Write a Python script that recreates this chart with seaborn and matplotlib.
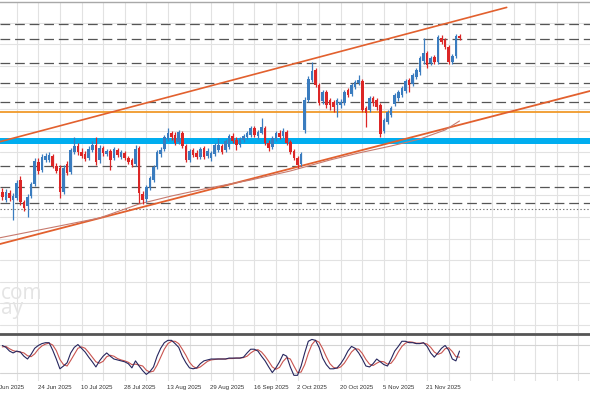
import numpy as np
import pandas as pd
import matplotlib
matplotlib.use("Agg")
import matplotlib.pyplot as plt
import matplotlib.transforms as mtransforms
import seaborn as sns

# ---------------- data (daily candles, price in index points) ----------------
opens = [208,200,207,200,202,220,198,194,204,216,
         238,230,240,240,244,234,232,208,236,228,
         248,254,248,246,242,250,255,240,252,246,
         249,242,250,243,247,242,240,236,252,206,
         201,212,220,233,246,251,261,267,265,258,
         267,254,240,250,247,243,252,244,242,246,
         250,254,250,253,264,260,255,260,263,265,
         272,264,267,272,257,253,261,267,264,268,
         258,249,242,236,270,300,320,330,315,299,
         308,300,298,295,295,297,310,306,313,317,
         319,292,290,302,300,295,269,278,285,296,
         302,305,309,320,316,323,328,339,347,337,
         343,338,362,360,353,338,344,364]
highs = [212,211,210,207,220,224,200,206,218,242,
         242,246,247,248,246,237,235,235,239,252,
         263,257,252,249,254,259,263,255,254,251,
         251,253,252,250,249,244,242,255,254,209,
         215,224,235,250,253,265,272,269,268,270,
         269,256,251,252,250,253,254,252,249,257,
         262,256,261,266,267,263,263,266,269,274,
         274,270,282,274,260,264,269,270,272,270,
         260,251,244,248,303,324,338,332,317,310,
         310,302,300,302,301,310,312,317,320,325,
         321,294,304,304,302,297,282,290,294,307,
         310,314,321,322,327,332,344,362,349,344,
         345,365,365,362,355,346,366,366]
lows = [200,198,199,180,200,195,189,183,202,214,
        226,228,238,238,232,227,202,206,225,226,
        246,245,242,239,240,248,235,237,244,244,
        230,240,243,241,240,236,233,234,197,196,
        198,210,218,231,243,249,259,260,255,256,
        252,238,238,243,241,241,241,242,239,244,
        248,246,248,251,257,250,253,258,261,263,
        263,261,266,255,249,251,259,261,262,255,
        246,240,232,234,267,298,318,313,295,296,
        292,290,288,283,292,295,303,304,311,315,
        288,273,288,294,290,263,267,276,283,294,
        299,303,307,308,314,321,325,336,332,335,
        336,336,356,351,336,336,342,360]
closes = [203,208,202,204,217,198,192,203,216,239,
          229,243,244,245,234,229,208,232,227,250,
          254,248,244,241,251,255,238,252,247,249,
          240,251,245,248,242,238,235,251,207,200,
          213,222,233,248,250,263,267,263,257,268,
          254,240,249,245,243,251,243,249,247,255,
          255,248,259,264,259,255,261,264,267,272,
          265,268,273,257,252,262,267,263,269,257,
          248,242,235,246,300,321,329,315,297,308,
          295,295,293,300,298,308,305,315,318,320,
          290,287,302,297,293,266,280,288,292,305,
          308,312,319,315,325,330,342,347,335,342,
          338,363,358,353,338,344,364,362.5]

# Stochastic oscillator (%K main, %D signal)
stoch_main = [79,75,67,63,67,65,56,50,60,73,
              79,83,85,85,69,50,29,35,42,63,
              75,81,73,65,54,44,33,46,56,63,
              56,50,48,46,44,40,31,46,35,25,
              17,23,33,56,73,85,90,90,83,75,
              56,42,31,29,31,40,46,48,50,50,
              50,50,50,52,52,52,52,54,63,71,
              71,67,56,46,33,21,31,44,60,56,
              33,15,15,35,63,88,92,90,75,52,
              38,29,29,31,40,52,67,77,73,63,
              50,35,33,40,50,44,38,35,50,67,
              77,88,88,85,85,83,83,85,77,63,
              54,63,73,79,69,50,46,67]
stoch_signal = [76,77,72,68,66,65,63,57,55,61,
                71,78,82,84,80,68,49,38,35,47,
                60,73,76,73,64,54,44,41,45,55,
                58,56,51,48,46,43,38,39,37,35,
                26,22,24,37,54,71,83,88,88,83,
                71,58,43,34,30,33,39,45,48,49,
                50,50,50,51,51,52,52,53,56,63,
                68,70,65,56,45,33,28,32,45,53,
                50,35,21,22,38,62,81,90,86,72,
                55,40,32,30,33,41,53,65,72,71,
                62,49,39,36,41,45,44,39,41,51,
                65,77,84,87,86,84,84,84,82,75,
                65,60,63,72,74,66,55,54]

# moving average (bar index, value)
ma_bars = [-1, 13, 27, 38, 47, 56, 69, 80, 91, 99, 108, 116, 123, 127]
ma_values = [162, 172, 182, 196, 204, 211, 220, 229, 240, 247, 254, 261, 270, 279]

# date axis
tick_bars = [-2, 10, 22, 34, 46, 58, 70, 82, 94, 106, 118]
tick_labels = ["6 Jun 2025", "24 Jun 2025", "10 Jul 2025", "28 Jul 2025",
               "13 Aug 2025", "29 Aug 2025", "16 Sep 2025", "2 Oct 2025",
               "20 Oct 2025", "5 Nov 2025", "21 Nov 2025"]

# drawn objects
dashed_levels = [375.7, 361, 337.3, 316.7, 297.7, 234.3, 212.7, 196.7]
dotted_level = 190.7
orange_level = 288.3
zone_low, zone_high = 255.7, 262.3
upper_channel_bars = [-0.64, 140.1]
upper_channel_vals = [258.3, 392.6]
lower_channel_bars = [-0.64, 163.25]
lower_channel_vals = [156.0, 309.0]
stoch_levels = [20, 80]

# ---------------- figure ----------------
sns.set_theme(style="white")
plt.rcParams["lines.scale_dashes"] = False
plt.rcParams["font.family"] = ["DejaVu Sans"]

W, H = 590, 393
fig = plt.figure(figsize=(W / 100, H / 100), dpi=100)
fig.patch.set_facecolor("white")
ax = fig.add_axes([0, 60 / H, 1, 331 / H])
ax2 = fig.add_axes([0, 12 / H, 1, 47 / H])

xlo, xhi = -0.64, 163.25
for a in (ax, ax2):
    a.set_xlim(xlo, xhi)
    a.set_facecolor("white")
    a.set_xticks([])
    a.set_yticks([])
    for s in a.spines.values():
        s.set_visible(False)
ax.set_ylim(67, 398)
ax2.set_ylim(2.86, 103.6)

grid_c = "#e2e2e2"
for k in np.arange(4, 164, 6):
    ax.axvline(k, color=grid_c, lw=0.8, zorder=0)
    ax2.axvline(k, color=grid_c, lw=0.8, zorder=0)
for v in 75 + 21.6 * np.arange(0, 16):
    ax.axhline(v, color=grid_c, lw=0.8, zorder=0)
for v in stoch_levels:
    ax2.axhline(v, color="#d4d4d4", lw=0.8, zorder=0)

ax.spines["top"].set_visible(True)
ax.spines["top"].set_color("#a8a8a8")
ax.spines["top"].set_linewidth(1.0)
ax2.spines["top"].set_visible(True)
ax2.spines["top"].set_color("#555555")
ax2.spines["top"].set_linewidth(2.0)

# levels
for v in dashed_levels:
    ax.axhline(v, color="#555555", lw=0.9, ls=(0, (7, 3.5)), zorder=1)
ax.axhline(dotted_level, color="#777777", lw=0.8, ls=(0, (1, 1.5)), zorder=1)
ax.axhspan(zone_low, zone_high, color="#00adef", lw=0, zorder=1.5)
ax.axhline(orange_level, color="#f09a2a", lw=1.3, zorder=2)

# channel lines and MA
sns.lineplot(x=upper_channel_bars, y=upper_channel_vals, ax=ax, color="#e2602e", lw=1.2, zorder=2)
sns.lineplot(x=lower_channel_bars, y=lower_channel_vals, ax=ax, color="#e2602e", lw=1.3, zorder=2)
sns.lineplot(x=ma_bars, y=ma_values, ax=ax, color="#c77a6e", lw=0.8, zorder=2)

# candles
df = pd.DataFrame({"open": opens, "high": highs, "low": lows, "close": closes})
df["idx"] = np.arange(len(df))
up = df["close"] >= df["open"]
colors = np.where(up, "#3a7cbf", "#dc2626")
body_bottom = np.minimum(df["open"], df["close"])
body_h = np.maximum(np.abs(df["close"] - df["open"]), 1.0)
ax.vlines(df["idx"], df["low"], df["high"], colors=colors, lw=0.9, zorder=3)
ax.bar(df["idx"], body_h, bottom=body_bottom, width=0.74, color=colors, lw=0, zorder=4)

# stochastic
sdf = pd.DataFrame({"idx": np.arange(len(stoch_main)), "main": stoch_main, "signal": stoch_signal})
sns.lineplot(data=sdf, x="idx", y="signal", ax=ax2, color="#c9544f", lw=0.8, zorder=3)
sns.lineplot(data=sdf, x="idx", y="main", ax=ax2, color="#26265e", lw=0.8, zorder=4)
ax2.set_xlabel("")
ax2.set_ylabel("")
ax.set_xlabel("")
ax.set_ylabel("")

# date labels
trans = mtransforms.blended_transform_factory(ax2.transData, ax2.transAxes)
for k, lab in zip(tick_bars, tick_labels):
    ax2.text(k - 0.2, -0.13, lab, transform=trans, ha="left", va="center",
             fontsize=4.4, color="#333333", clip_on=False,
             family=["Liberation Sans", "DejaVu Sans"])

# watermark
fig.text(1 / W, 1 - 314 / H, "com\nay", fontsize=15, color="#e4e4e4", ha="left", va="baseline",
         linespacing=0.62, family=["Open Sans", "DejaVu Sans"])

fig.savefig("out.png", dpi=100, facecolor="white")
